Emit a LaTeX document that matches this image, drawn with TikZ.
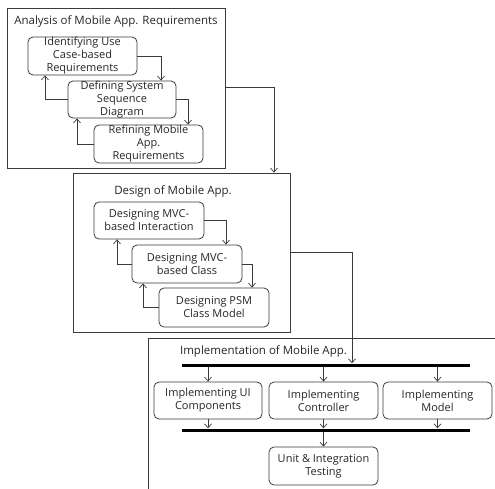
\documentclass[tikz,border=0pt]{standalone}
\usepackage{fontspec}
\setmainfont{Open Sans}
\usetikzlibrary{arrows.meta,calc}
\definecolor{ln}{HTML}{3A3A3A}
\definecolor{tx}{HTML}{262626}
\tikzset{
  stepbox/.style={draw=ln, rounded corners=5pt, line width=0.8pt, align=center, text=tx,
    font=\fontsize{11}{13}\selectfont, inner sep=0pt},
  phase/.style={draw=ln, line width=0.8pt, inner sep=0pt},
  ttl/.style={text=tx, font=\fontsize{11.5}{14}\selectfont, inner sep=0pt},
  arr/.style={draw=ln, line width=0.7pt, -{Straight Barb[length=4pt,width=7pt]}},
  bar/.style={fill=black, inner sep=0pt, minimum height=3pt},
}
\begin{document}
\begin{tikzpicture}[x=1pt,y=-1pt]
\useasboundingbox (0,0) rectangle (495,489);
\clip (0,0) rectangle (495,489);
% phase boxes
\node[phase, minimum width=218pt, minimum height=160pt] (P1) at (116,88) {};
\node[phase, minimum width=217pt, minimum height=159pt] (P2) at (181.5,252.5) {};
\node[phase, minimum width=360pt, minimum height=160pt] (P3) at (328,418) {};
% titles
\node[ttl] (T1) at (116,21) {Analysis of Mobile App. Requirements};
\node[ttl] (T2) at (173,191) {Design of Mobile App.};
\node[ttl] (T3) at (263.5,351) {Implementation of Mobile App.};
% analysis
\node[stepbox, minimum width=109pt, minimum height=38pt] (A1) at (82.5,56) {Identifying Use\\Case-based\\Requirements};
\node[stepbox, minimum width=108pt, minimum height=37pt] (A2) at (122,99.5) {Defining System\\Sequence\\Diagram};
\node[stepbox, minimum width=109pt, minimum height=38pt] (A3) at (148.5,144) {Refining Mobile\\App.\\Requirements};
% design
\node[stepbox, minimum width=110pt, minimum height=37pt] (B1) at (149,220.5) {Designing MVC-\\based Interaction};
\node[stepbox, minimum width=110pt, minimum height=38pt] (B2) at (187,264) {Designing MVC-\\based Class};
\node[stepbox, minimum width=110pt, minimum height=39pt] (B3) at (214,307.5) {Designing PSM\\Class Model};
% implementation
\node[bar, minimum width=288pt] (R1) at (326,365) {};
\node[bar, minimum width=288pt] (R2) at (326,430) {};
\node[stepbox, minimum width=108pt, minimum height=37pt] (C1) at (208,400.5) {Implementing UI\\Components};
\node[stepbox, minimum width=109pt, minimum height=37pt] (C2) at (323.5,400.5) {Implementing\\Controller};
\node[stepbox, minimum width=109pt, minimum height=37pt] (C3) at (437.5,400.5) {Implementing\\Model};
\node[stepbox, minimum width=109pt, minimum height=38pt] (D) at (323.5,466) {Unit \& Integration\\Testing};
% analysis arrows
\draw[arr] (A1.east) -| ([xshift=39pt]A2.north);
\draw[arr] (A2.east) -| ([xshift=39.5pt]A3.north);
\draw[arr] (A2.west) -| ([xshift=-37.5pt]A1.south);
\draw[arr] (A3.west) -| ([xshift=-45pt]A2.south);
% design arrows
\draw[arr] (B1.east) -| ([xshift=39pt]B2.north);
\draw[arr] (B2.east) -| ([xshift=38pt]B3.north);
\draw[arr] (B2.west) -| ([xshift=-32pt]B1.south);
\draw[arr] (B3.west) -| ([xshift=-44pt]B2.south);
% phase connectors
\draw[arr] ([yshift=1pt]P1.east) -| ([xshift=92.5pt]P2.north);
\draw[arr] (P2.east) -| (R1.north -| 352,0);
% implementation arrows
\draw[arr] (C1.north |- R1.south) -- (C1.north);
\draw[arr] (C2.north |- R1.south) -- (C2.north);
\draw[arr] (C3.north |- R1.south) -- (C3.north);
\draw[arr] (C1.south) -- (C1.south |- R2.north);
\draw[arr] (C2.south) -- (C2.south |- R2.north);
\draw[arr] (C3.south) -- (C3.south |- R2.north);
\draw[arr] (D.north |- R2.south) -- (D.north);
\end{tikzpicture}
\end{document}
